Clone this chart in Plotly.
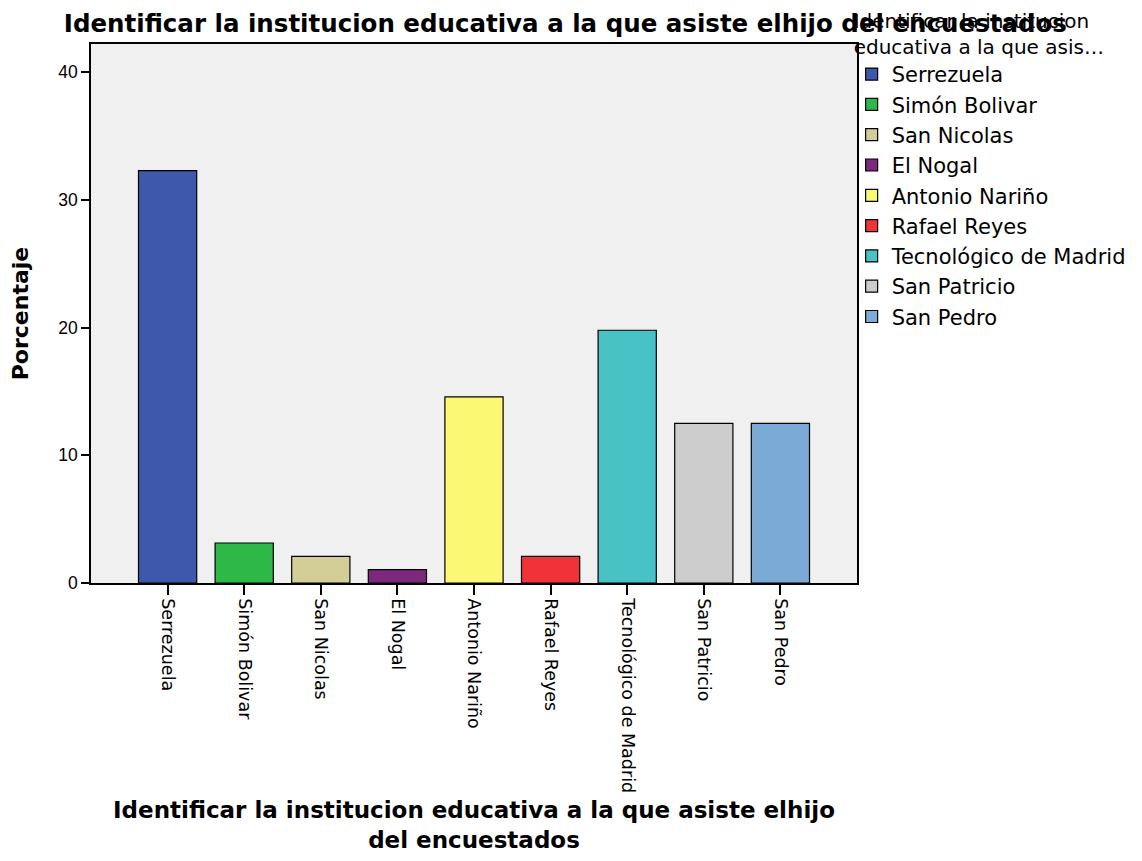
import plotly.graph_objects as go

categories = ["Serrezuela", "Simón Bolivar", "San Nicolas", "El Nogal", "Antonio Nariño",
              "Rafael Reyes", "Tecnológico de Madrid", "San Patricio", "San Pedro"]
values = [32.29, 3.13, 2.08, 1.04, 14.58, 2.08, 19.79, 12.5, 12.5]
colors = ["#3E58AC", "#2EB848", "#D3CE97", "#7C287D", "#FBF873",
          "#EF3338", "#48C2C5", "#CCCCCC", "#7AAAD5"]
y_ticks = [0, 10, 20, 30, 40]

FONT = "Liberation Sans, Arial, sans-serif"
WIDE = "DejaVu Sans, sans-serif"

fig = go.Figure()
for cat, val, col in zip(categories, values, colors):
    fig.add_trace(go.Bar(
        x=[cat], y=[val], name=cat, width=0.76,
        marker=dict(color=col, line=dict(color="black", width=1.2)),
    ))

fig.update_layout(
    width=1126, height=845,
    margin=dict(l=83, r=277, t=36, b=270, autoexpand=False),
    paper_bgcolor="white", plot_bgcolor="#F0F0F0",
    barmode="overlay",
    font=dict(family=FONT, color="black"),
    title=dict(text="<b>Identificar la institucion educativa a la que asiste elhijo del encuestados</b>",
               x=0.495, xanchor="center", y=0.982, yanchor="middle",
               font=dict(size=24.5, family=WIDE)),
    legend=dict(
        x=0.993, xanchor="left", y=1.078, yanchor="top",
        title=dict(text="Identificar la institucion<br>educativa a la que asis…",
                   font=dict(size=20, family=WIDE)),
        font=dict(size=21, family=WIDE), bgcolor="rgba(0,0,0,0)",
        tracegroupgap=0, itemwidth=30,
    ),
    xaxis=dict(
        categoryorder="array", categoryarray=categories,
        range=[-1, 9], tickangle=90, tickfont=dict(size=17.5, family=WIDE),
        ticks="outside", ticklen=10, tickcolor="black", tickwidth=1.5,
        showline=True, linecolor="black", linewidth=1.5, mirror=True,
        showgrid=False, automargin=True,
        title=dict(text="<b>Identificar la institucion educativa a la que asiste elhijo<br>del encuestados</b>",
                   font=dict(size=23, family=WIDE), standoff=20),
    ),
    yaxis=dict(
        range=[0, 42.2], tickvals=y_ticks, tickfont=dict(size=17.5),
        ticks="outside", ticklen=8, tickcolor="black", tickwidth=1.5,
        showline=True, linecolor="black", linewidth=1.5, mirror=True,
        showgrid=False, zeroline=False,
        title=dict(text="<b>Porcentaje</b>", font=dict(size=22, family=WIDE), standoff=24),
    ),
)

fig.write_html("out.html")
